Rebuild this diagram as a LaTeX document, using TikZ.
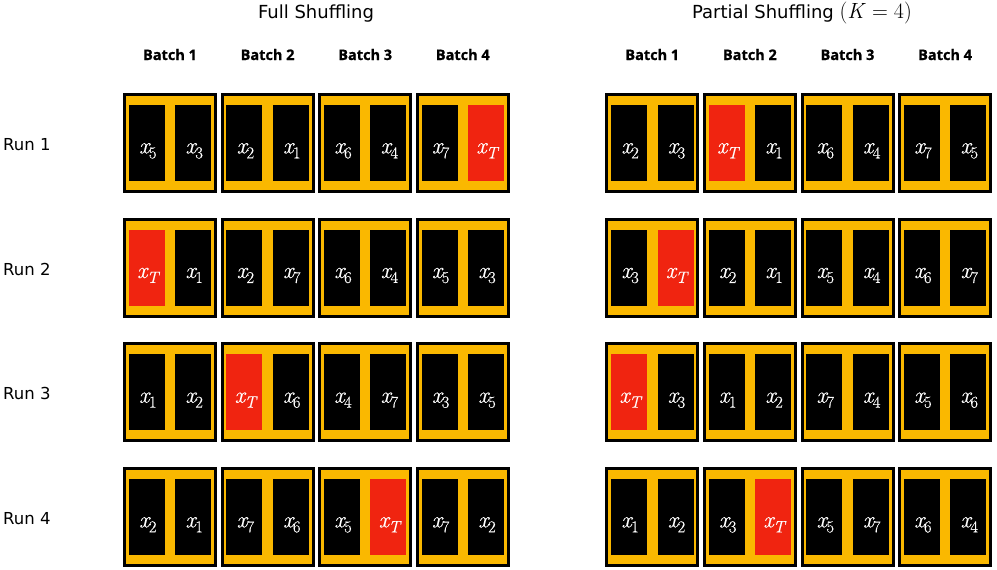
\documentclass[tikz,border=0pt]{standalone}
\usepackage{fontspec}
\setmainfont{DejaVu Sans}
\newfontfamily\lmfont{Latin Modern Roman}
\newfontfamily\cellfont[FakeBold=0.4]{Latin Modern Roman}
\newfontfamily\boldlabelfont[BoldFeatures={FakeBold=0.8}]{Open Sans}
\definecolor{boxorange}{RGB}{250,184,0}
\definecolor{hotred}{RGB}{240,36,16}
\newcommand\TT{\itshape T}
\newcommand\xsub[1]{{\cellfont\itshape x}\kern-0.5pt\raisebox{-5pt}{\fontsize{16.5}{16.5}\selectfont\cellfont #1}}
\begin{document}
\begin{tikzpicture}[x=1pt,y=-1pt,
  batchbox/.style={draw=black, line width=3pt, fill=boxorange, minimum width=91pt, minimum height=97pt, inner sep=0pt},
  cell/.style={fill=black, minimum width=36pt, minimum height=76pt, inner sep=0pt},
  target/.style={cell, fill=hotred},
  L0/.style={cell}, L1/.style={target}, L2/.style={cell},
  R0/.style={cell}, R1/.style={cell}, R2/.style={target},
  celltext/.style={text=white, inner sep=0pt, anchor=base, font=\fontsize{23}{23}\selectfont},
  title/.style={font=\fontsize{18}{20}\selectfont, inner sep=0pt, anchor=base},
  batchlabel/.style={font=\fontsize{14.5}{16}\selectfont\boldlabelfont\bfseries, inner sep=0pt, anchor=base},
  runlabel/.style={font=\fontsize{16.5}{18}\selectfont, inner sep=0pt, anchor=base west}]
\useasboundingbox (0,0) rectangle (997,570);
\node[title] (FT) at (316,18.3) {Full Shuffling};
\node[title] (PT) at (802,18.3) {Partial Shuffling {\fontsize{22}{22}\selectfont\lmfont(\textit{K}\hspace{0.2778em}=\hspace{0.2778em}4)}};
\foreach \b in {1,...,4} {
  \node[batchlabel] (FB\b) at ({170+97.6*(\b-1)},60) {Batch \b};
  \node[batchlabel] (PB\b) at ({652.3+97.6*(\b-1)},60) {Batch \b};
}
\foreach \r in {1,...,4}
  \node[runlabel] (R\r) at (3,{150.5+124.67*(\r-1)}) {Run \r};
% Full shuffling
\foreach \r/\row in {1/{5/3/0,2/1/0,6/4/0,7/\TT/2},
                     2/{\TT/1/1,2/7/0,6/4/0,5/3/0},
                     3/{1/2/0,\TT/6/1,4/7/0,3/5/0},
                     4/{2/1/0,7/6/0,5/\TT/2,7/2/0}} {
  \foreach \a/\c/\w [count=\b] in \row {
    \node[batchbox] (F-\r-\b) at ({170+97.6*(\b-1)},{143+124.67*(\r-1)}) {};
    \node[L\w] (F-\r-\b-a) at ([xshift=-23.2pt]F-\r-\b.center) {};
    \node[R\w] (F-\r-\b-b) at ([xshift=23.2pt]F-\r-\b.center) {};
    \node[celltext] (F-\r-\b-at) at ([shift={(1,10.3)}]F-\r-\b-a.center) {\xsub{\a}};
    \node[celltext] (F-\r-\b-bt) at ([shift={(1,10.3)}]F-\r-\b-b.center) {\xsub{\c}};
  }
}
% Partial shuffling
\foreach \r/\row in {1/{2/3/0,\TT/1/1,6/4/0,7/5/0},
                     2/{3/\TT/2,2/1/0,5/4/0,6/7/0},
                     3/{\TT/3/1,1/2/0,7/4/0,5/6/0},
                     4/{1/2/0,3/\TT/2,5/7/0,6/4/0}} {
  \foreach \a/\c/\w [count=\b] in \row {
    \node[batchbox] (P-\r-\b) at ({652.3+97.6*(\b-1)},{143+124.67*(\r-1)}) {};
    \node[L\w] (P-\r-\b-a) at ([xshift=-23.2pt]P-\r-\b.center) {};
    \node[R\w] (P-\r-\b-b) at ([xshift=23.2pt]P-\r-\b.center) {};
    \node[celltext] (P-\r-\b-at) at ([shift={(1,10.3)}]P-\r-\b-a.center) {\xsub{\a}};
    \node[celltext] (P-\r-\b-bt) at ([shift={(1,10.3)}]P-\r-\b-b.center) {\xsub{\c}};
  }
}
\end{tikzpicture}
\end{document}
